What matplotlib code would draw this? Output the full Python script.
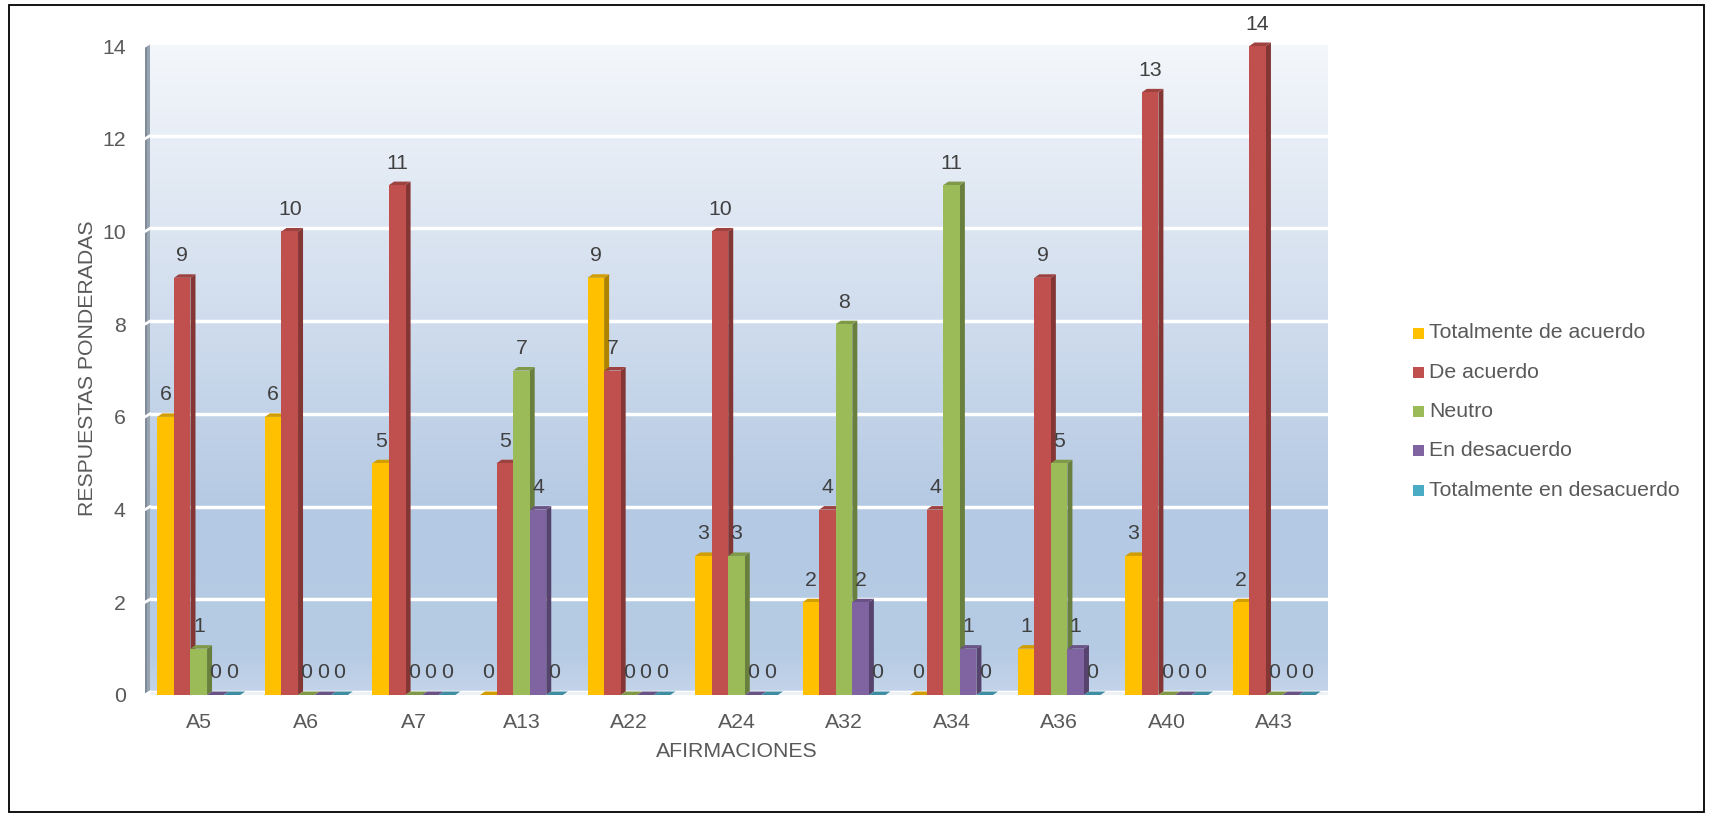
import numpy as np
import matplotlib
matplotlib.use("Agg")
import matplotlib.pyplot as plt
from matplotlib.patches import Rectangle, Polygon
from matplotlib.colors import LinearSegmentedColormap, to_rgb

plt.rcParams['font.family'] = ['Liberation Sans', 'DejaVu Sans']

# datos
afirmaciones = ['A5', 'A6', 'A7', 'A13', 'A22', 'A24', 'A32', 'A34', 'A36', 'A40', 'A43']
series = ['Totalmente de acuerdo', 'De acuerdo', 'Neutro', 'En desacuerdo',
          'Totalmente en desacuerdo']
tot_acuerdo = [6, 6, 5, 0, 9, 3, 2, 0, 1, 3, 2]
de_acuerdo = [9, 10, 11, 5, 7, 10, 4, 4, 9, 13, 14]
neutro = [1, 0, 0, 7, 0, 3, 8, 11, 5, 0, 0]
en_desacuerdo = [0, 0, 0, 4, 0, 0, 2, 1, 1, 0, 0]
tot_desacuerdo = [0, 0, 0, 0, 0, 0, 0, 0, 0, 0, 0]
valores = [tot_acuerdo, de_acuerdo, neutro, en_desacuerdo, tot_desacuerdo]
colores = ['#FFC000', '#C0504D', '#9BBB59', '#8064A2', '#4BACC6']

W, H = 1709, 817
fig = plt.figure(figsize=(W / 100, H / 100), dpi=100)
ax_l, ax_r, ax_b, ax_t = 145, 1328, 695, 42.3
ax = fig.add_axes([ax_l / W, 1 - ax_b / H, (ax_r - ax_l) / W, (ax_b - ax_t) / H])

ymax = 14.08
n = len(afirmaciones)
ax.set_xlim(-0.5, n - 0.5)
ax.set_ylim(0, ymax)

px_x = (ax_r - ax_l) / n          # pixeles por unidad en x
px_y = (ax_b - ax_t) / ymax       # pixeles por unidad en y
dx = 5 / px_x                     # profundidad de las barras
dy = 3.5 / px_y
gdy = 3 / px_y                    # desplazamiento de la pared del fondo


def oscurecer(c, f):
    r, g, b = to_rgb(c)
    return (r * f, g * f, b * f)


# fondo con degradado
cmap_fondo = LinearSegmentedColormap.from_list('fondo', [
    (0.0, '#c4d5ea'), (0.06, '#b6cbe4'), (0.28, '#b4c9e3'),
    (0.6, '#d2deee'), (1.0, '#f4f7fb')])
grad = np.linspace(0, 1, 256).reshape(-1, 1)
ax.imshow(grad, cmap=cmap_fondo, origin='lower', aspect='auto',
          extent=[-0.5 + dx, n - 0.5, 0, ymax], zorder=0)

# pared izquierda
ax.add_patch(Polygon([(-0.5, 0), (-0.5 + dx, gdy), (-0.5 + dx, ymax), (-0.5, ymax - gdy)],
                     closed=True, facecolor='#98a3b0', edgecolor='none', zorder=1))
ax.add_patch(Rectangle((-0.5, 0), dx * 0.35, ymax - gdy, facecolor='#7f8b99',
                       edgecolor='none', zorder=1))

# lineas de la cuadricula
for k in range(0, 15, 2):
    ax.plot([-0.5 + dx, n - 0.5], [k + gdy, k + gdy], color='white', lw=2.5,
            zorder=2, solid_capstyle='butt')
    ax.plot([-0.5, -0.5 + dx], [k, k + gdy], color='white', lw=2, zorder=2)
# piso
ax.add_patch(Rectangle((-0.5 + dx, -0.02), n, gdy + 0.02, facecolor='#eef2f7',
                       edgecolor='none', zorder=2))

# barras con efecto 3D
w = 0.154
for i, (vals, col) in enumerate(zip(valores, colores)):
    lado = oscurecer(col, 0.68)
    tapa = oscurecer(col, 0.82)
    for j, v in enumerate(vals):
        x0 = j - 2.5 * w + i * w
        z = 3 + j * 10 + i
        ax.add_patch(Polygon([(x0 + w, 0), (x0 + w + dx, dy), (x0 + w + dx, v + dy), (x0 + w, v)],
                             closed=True, facecolor=lado, edgecolor='none', zorder=z))
        ax.add_patch(Polygon([(x0, v), (x0 + w, v), (x0 + w + dx, v + dy), (x0 + dx, v + dy)],
                             closed=True, facecolor=tapa, edgecolor='none', zorder=z))
        if v > 0:
            ax.add_patch(Rectangle((x0, 0), w, v, facecolor=col, edgecolor='none', zorder=z))
        ax.annotate(str(v), (x0 + w / 2, v), xytext=(0, 22), textcoords='offset pixels',
                    ha='center', va='center', fontsize=15.3, color='#404040', zorder=200)

ax.set_xticks(range(n))
ax.set_xticklabels(afirmaciones)
ax.set_yticks(range(0, 15, 2))
ax.tick_params(length=0, labelsize=15.3, labelcolor='#595959')
ax.tick_params(axis='x', pad=13)
ax.tick_params(axis='y', pad=14)
for s in ax.spines.values():
    s.set_visible(False)

ax.set_ylabel('RESPUESTAS PONDERADAS', fontsize=15.3, color='#595959')
ax.yaxis.set_label_coords((97 - ax_l) / (ax_r - ax_l), 0.5)
ax.set_xlabel('AFIRMACIONES', fontsize=15.3, color='#595959')
ax.xaxis.set_label_coords(0.5, -(742 - ax_b) / (ax_b - ax_t))

# leyenda
for i, (nombre, col) in enumerate(zip(series, colores)):
    yc = 333 + i * 39.3
    fig.patches.append(Rectangle((1413 / W, 1 - (yc + 5.5) / H), 11 / W, 11 / H,
                                 transform=fig.transFigure, facecolor=col, edgecolor='none'))
    fig.text(1429 / W, 1 - yc / H, nombre, fontsize=15.3, color='#595959',
             ha='left', va='center')

# marco exterior
fig.patches.append(Rectangle((9 / W, 5 / H), (1704 - 9) / W, (812 - 5) / H,
                             transform=fig.transFigure, fill=False, edgecolor='black', lw=1.3))

fig.savefig('out.png', dpi=100)
